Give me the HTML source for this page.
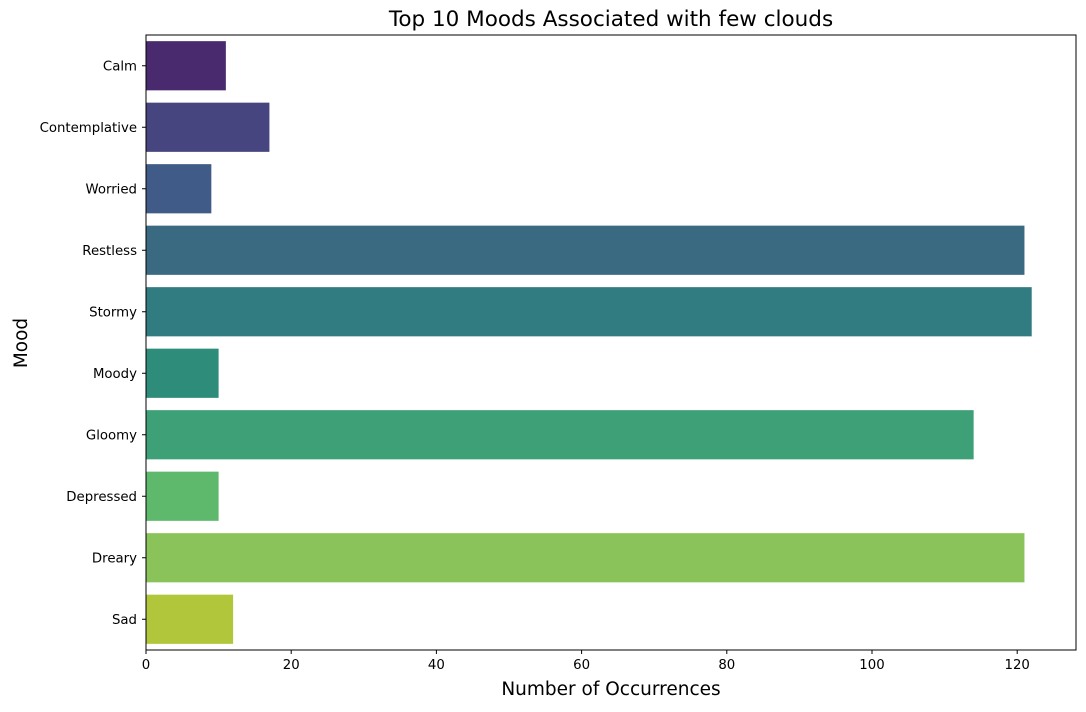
<!DOCTYPE html>
<html><head><meta charset="utf-8"><style>
body{margin:0;background:#fff;font-family:"DejaVu Sans","Liberation Sans",sans-serif}
</style></head><body>
<svg id="chart" width="1086" height="708" xmlns="http://www.w3.org/2000/svg" font-family="DejaVu Sans, Liberation Sans, sans-serif">
<text x="611" y="26" font-size="21.5" text-anchor="middle">Top 10 Moods Associated with few clouds</text>
<text x="611" y="695" font-size="18.5" text-anchor="middle">Number of Occurrences</text>
<text x="27" y="343" font-size="18.5" text-anchor="middle" transform="rotate(-90 27 343)">Mood</text>
<g id="bars"></g><g id="axes"></g>
<rect x="146" y="35" width="930" height="615" fill="none" stroke="#000" stroke-width="1"/>
</svg>
<script>
const categories=["Calm","Contemplative","Worried","Restless","Stormy","Moody","Gloomy","Depressed","Dreary","Sad"];
const values=[11,17,9,121,122,10,114,10,121,12];
const colors=["#4a2a6e","#47457f","#405b88","#3a6a82","#317c80","#2e8c7b","#3da077","#5fb96c","#89c35a","#b1c63a"];
const xTicks=[0,20,40,60,80,100,120];
const L=146,R=1076,T=35,B=650,XMAX=128.1;
const x=v=>L+(v/XMAX)*(R-L);
const band=(B-T)/categories.length;
const y=i=>T+band*i;
const ns="http://www.w3.org/2000/svg";
const bars=document.getElementById('bars'),axes=document.getElementById('axes');
function mk(t,a,p){const e=document.createElementNS(ns,t);for(const k in a)e.setAttribute(k,a[k]);p.appendChild(e);return e;}
categories.forEach((c,i)=>{
 const r=mk('rect',{x:x(0),y:y(i)+band*0.1,width:x(values[i])-x(0),height:band*0.8,fill:colors[i]},bars);
 
 
 const cy=y(i)+band/2;
 mk('line',{x1:L-4,x2:L,y1:cy,y2:cy,stroke:'#000'},axes);
 const t=mk('text',{x:L-9,y:cy+4.8,'font-size':13.3,'text-anchor':'end'},axes);
 t.textContent=c;
 
 
});
xTicks.forEach(v=>{
 mk('line',{x1:x(v),x2:x(v),y1:B,y2:B+4,stroke:'#000'},axes);
 const t=mk('text',{x:x(v),y:B+19,'font-size':13.3,'text-anchor':'middle'},axes);
 t.textContent=v;
 
 
});
</script>
</body></html>
